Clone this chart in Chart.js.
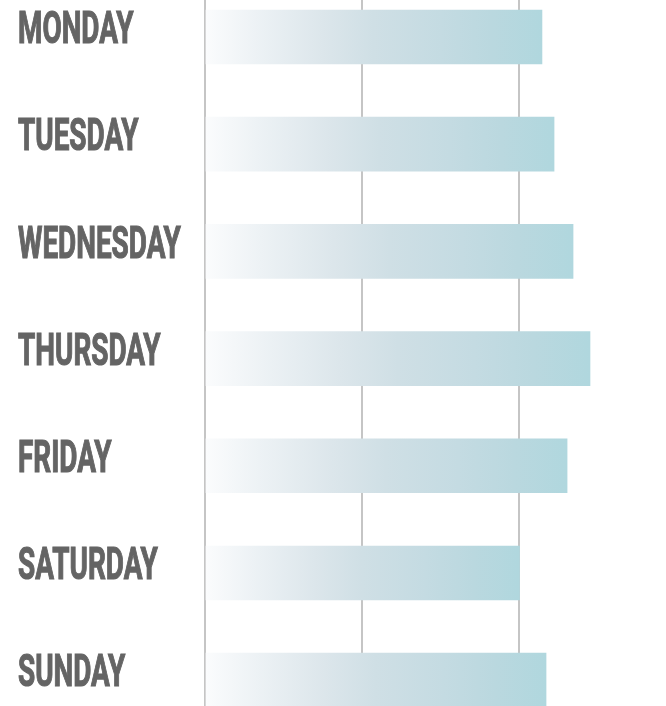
<!DOCTYPE html>
<html>
<head>
<meta charset="utf-8">
<script src="https://cdn.jsdelivr.net/npm/chart.js@4/dist/chart.umd.min.js"></script>
<style>
  html, body { margin: 0; padding: 0; background: #fff; }
  canvas { display: block; }
</style>
</head>
<body>
<canvas id="weekChart" width="666" height="706"></canvas>
<script>
// Data
const days = ["MONDAY", "TUESDAY", "WEDNESDAY", "THURSDAY", "FRIDAY", "SATURDAY", "SUNDAY"];
const values = [214.6, 222.3, 234.4, 245.2, 230.6, 200.3, 217.2];
const gridSteps = [0, 100, 200];

// Style
const LABEL_SQUEEZE = 0.62;
const LABEL_SHIFT = -5;
const gradientStops = [
  [0, "#fbfcfd"],
  [0.15, "#edf2f5"],
  [0.35, "#dce6eb"],
  [0.5, "#cfdfe5"],
  [0.7, "#c4dbe2"],
  [0.85, "#bad8df"],
  [1, "#b0d7de"],
];

// Linear scale whose labels are drawn narrow, like a condensed face
class NarrowLabelScale extends Chart.LinearScale {
  _computeLabelArea() {
    return undefined;
  }
  drawLabels(area) {
    const ctx = this.ctx;
    ctx.save();
    ctx.translate(this.left, LABEL_SHIFT);
    ctx.scale(LABEL_SQUEEZE, 1);
    ctx.translate(-this.left, 0);
    super.drawLabels(area);
    ctx.restore();
  }
}
NarrowLabelScale.id = "narrowLinear";
NarrowLabelScale.defaults = Chart.LinearScale.defaults;
Chart.register(NarrowLabelScale);

function barGradient(c) {
  const chart = c.chart;
  if (c.type !== "data" || !chart.chartArea) return "#c4dbe2";
  const xScale = chart.scales.x;
  const x0 = xScale.getPixelForValue(0);
  const x1 = xScale.getPixelForValue(values[c.dataIndex]);
  const g = chart.ctx.createLinearGradient(x0, 0, x1, 0);
  gradientStops.forEach(([pos, col]) => g.addColorStop(pos, col));
  return g;
}

document.addEventListener("DOMContentLoaded", function () {
  const ctx = document.getElementById("weekChart");

  new Chart(ctx, {
    type: "bar",
    data: {
      datasets: [
        {
          data: values.map((v, i) => ({ x: v, y: i })),
          backgroundColor: barGradient,
          borderWidth: 0,
          barThickness: 54,
        },
      ],
    },
    options: {
      indexAxis: "y",
      responsive: false,
      animation: false,
      layout: {
        padding: { left: 18, right: 0, top: 0, bottom: 0 },
      },
      plugins: {
        legend: { display: false },
        tooltip: { enabled: false },
      },
      scales: {
        x: {
          type: "linear",
          bounds: "data",
          min: 0,
          max: 293.6,
          z: 1,
          afterBuildTicks: (scale) => {
            scale.ticks = gridSteps.map((v) => ({ value: v }));
          },
          grid: {
            color: "#c5c5c5",
            lineWidth: 2,
            drawTicks: false,
          },
          border: { display: false },
          ticks: { display: false },
        },
        y: {
          type: "narrowLinear",
          bounds: "data",
          offset: false,
          reverse: true,
          min: -0.345,
          max: 6.241,
          afterBuildTicks: (scale) => {
            scale.ticks = days.map((d, i) => ({ value: i }));
          },
          afterFit: (scale) => {
            scale.width = 187;
            scale.paddingTop = 0;
            scale.paddingBottom = 0;
          },
          grid: { display: false, offset: false },
          border: { display: false },
          ticks: {
            crossAlign: "far",
            color: "#646464",
            textStrokeColor: "#646464",
            textStrokeWidth: 1.2,
            font: { family: "Roboto", weight: "bold", size: 45 },
            callback: (v) => days[v],
          },
        },
      },
    },
  });
});
</script>
</body>
</html>
